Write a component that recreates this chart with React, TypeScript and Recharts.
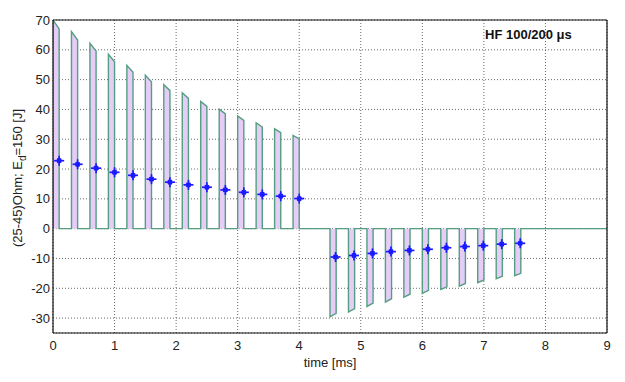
import { ComposedChart, Area, Scatter, XAxis, YAxis, CartesianGrid } from 'recharts';

// pulse start times [ms], 100 µs wide
const POS_TIMES = [0, 0.3, 0.6, 0.9, 1.2, 1.5, 1.8, 2.1, 2.4, 2.7, 3.0, 3.3, 3.6, 3.9];
const POS_START = [70, 66.1, 62.2, 58.5, 54.8, 51.5, 48.3, 45.6, 42.7, 40.1, 37.8, 35.5, 33.5, 31.3];
const POS_END = [67, 63.3, 59.6, 56, 52.5, 49.3, 46.3, 43.7, 41, 38.5, 36.3, 34.1, 32.2, 30.1];
const POS_MEAN = [22.8, 21.6, 20.3, 18.9, 17.9, 16.6, 15.6, 14.7, 13.9, 13.0, 12.2, 11.5, 10.9, 10.1];

const NEG_TIMES = [4.5, 4.8, 5.1, 5.4, 5.7, 6.0, 6.3, 6.6, 6.9, 7.2, 7.5];
const NEG_START = [-29.6, -28, -26.1, -24.6, -23, -21.7, -20.4, -19.3, -18.1, -16.8, -15.8];
const NEG_END = [-28.4, -26.8, -25, -23.5, -22, -20.7, -19.5, -18.4, -17.2, -16, -15];
const NEG_MEAN = [-9.5, -9.0, -8.3, -7.7, -7.3, -6.9, -6.4, -6.0, -5.7, -5.2, -4.9];

const X_TICKS = [0, 1, 2, 3, 4, 5, 6, 7, 8, 9];
const Y_TICKS = [-30, -20, -10, 0, 10, 20, 30, 40, 50, 60, 70];

const PULSE_WIDTH = 0.1;
const FONT = 'Liberation Sans, Arial, sans-serif';

function buildWave() {
  const pts: { t: number; v: number }[] = [];
  const add = (times: number[], a: number[], b: number[]) => {
    times.forEach((t, i) => {
      pts.push({ t, v: 0 });
      pts.push({ t, v: a[i] });
      pts.push({ t: t + PULSE_WIDTH, v: b[i] });
      pts.push({ t: t + PULSE_WIDTH, v: 0 });
    });
  };
  add(POS_TIMES, POS_START, POS_END);
  add(NEG_TIMES, NEG_START, NEG_END);
  pts.push({ t: 9, v: 0 });
  return pts;
}

const wave = buildWave();
const markers = [
  ...POS_TIMES.map((t, i) => ({ t: t + 0.1, v: POS_MEAN[i] })),
  ...NEG_TIMES.map((t, i) => ({ t: t + 0.09, v: NEG_MEAN[i] })),
];

// matlab-ish '*' marker, mostly reads as a plus with a heavy centre
function Star(props: any) {
  const { cx, cy } = props;
  const c = '#1a1aff';
  return (
    <g stroke={c} strokeWidth={1.7}>
      <line x1={cx - 5} y1={cy} x2={cx + 5} y2={cy} />
      <line x1={cx} y1={cy - 5} x2={cx} y2={cy + 5} />
      <line x1={cx - 2} y1={cy - 2} x2={cx + 2} y2={cy + 2} />
      <line x1={cx - 2} y1={cy + 2} x2={cx + 2} y2={cy - 2} />
      <circle cx={cx} cy={cy} r={2.4} fill={c} stroke="none" />
    </g>
  );
}

const tickStyle = { fontSize: 13, fill: '#222', fontFamily: FONT };

export default function App() {
  return (
    <div style={{ position: 'absolute', left: 0, top: 0, width: 625, height: 382, background: '#fff' }}>
      <ComposedChart width={625} height={382} margin={{ top: 20, right: 18, left: 0, bottom: 19 }}>
        <CartesianGrid stroke="#444" strokeDasharray="1 2" strokeWidth={0.8} />
        <XAxis
          dataKey="t"
          type="number"
          domain={[0, 9]}
          ticks={X_TICKS}
          allowDataOverflow
          height={30}
          tickLine={false}
          tickSize={6}
          tickMargin={2}
          tick={tickStyle}
          axisLine={{ stroke: '#111', strokeWidth: 1.2 }}
          label={() => (
            <text x={330} y={367} textAnchor="middle" fontSize={13} fill="#222" fontFamily={FONT}>
              time [ms]
            </text>
          )}
        />
        <YAxis
          type="number"
          domain={[-35, 70]}
          ticks={Y_TICKS}
          allowDataOverflow
          width={53}
          tickLine={false}
          tickSize={3}
          tickMargin={0}
          tick={tickStyle}
          axisLine={{ stroke: '#111', strokeWidth: 1.2 }}
          label={() => (
            <text
              x={22}
              y={178}
              transform="rotate(-90 22 178)"
              textAnchor="middle"
              fontSize={13}
              fill="#222"
              fontFamily={FONT}
            >
              (25-45)Ohm; E<tspan fontSize={10} dy={4}>d</tspan>
              <tspan dy={-4}>=150 [J]</tspan>
            </text>
          )}
        />
        <XAxis xAxisId="top" orientation="top" type="number" domain={[0, 9]} ticks={X_TICKS} mirror tick={false} tickSize={4} axisLine={{ stroke: '#111', strokeWidth: 1.2 }} tickLine={{ stroke: '#111' }} />
        <XAxis xAxisId="bin" orientation="bottom" type="number" domain={[0, 9]} ticks={X_TICKS} mirror tick={false} tickSize={4} axisLine={false} tickLine={{ stroke: '#111' }} />
        <YAxis yAxisId="right" orientation="right" type="number" domain={[-35, 70]} ticks={Y_TICKS} mirror tick={false} tickSize={4} axisLine={{ stroke: '#111', strokeWidth: 1.2 }} tickLine={{ stroke: '#111' }} />
        <YAxis yAxisId="lin" orientation="left" type="number" domain={[-35, 70]} ticks={Y_TICKS} mirror tick={false} tickSize={4} axisLine={false} tickLine={{ stroke: '#111' }} />
        <Area
          data={wave}
          dataKey="v"
          type="linear"
          baseValue={0}
          stroke="#559e82"
          strokeWidth={1.4}
          fill="#e6cdf8"
          fillOpacity={1}
          dot={false}
          activeDot={false}
          isAnimationActive={false}
        />
        <Scatter data={markers} dataKey="v" shape={Star} isAnimationActive={false} />
        <text x={485} y={39} fontSize={13} fontWeight="bold" fill="#111" fontFamily={FONT}>
          HF 100/200 μs
        </text>
      </ComposedChart>
    </div>
  );
}
